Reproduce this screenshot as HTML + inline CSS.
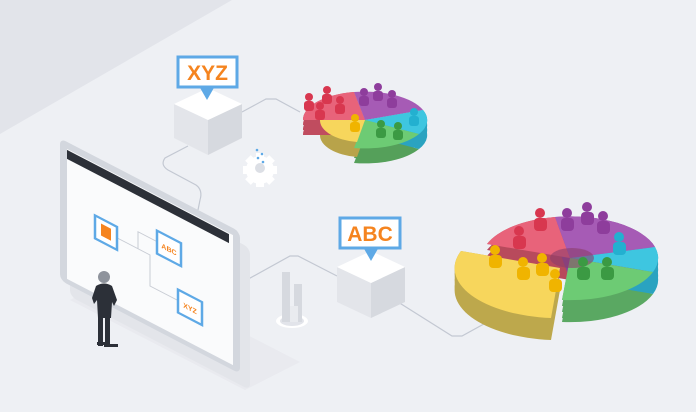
<!DOCTYPE html>
<html><head><meta charset="utf-8"><style>
html,body{margin:0;padding:0;background:#eef0f4;}
svg{display:block}
text{font-family:"Liberation Sans",sans-serif;font-weight:bold;}
</style></head><body>
<svg width="696" height="412" viewBox="0 0 696 412" xmlns="http://www.w3.org/2000/svg">
<rect width="696" height="412" fill="#eef0f4"/>
<polygon points="0,0 232,0 0,134" fill="#e2e4ea"/>
<!-- floor shadows -->
<polygon points="70,300 245,390 300,362 125,272" fill="#e7e9ee" opacity="0.8"/>
<!-- connectors -->
<g fill="none" stroke="#c3c8d2" stroke-width="1.2">
<path d="M242,112 L266,99 L276,99 L300,112"/>
<path d="M188,146 L165,158 Q160,165 168,170 L196,185 Q203,190 200,200 L198,210"/>
<path d="M243,282 L290,256 L298,256 L337,276"/>
<path d="M398,302 L452,336 L462,336 L502,314"/>
</g>
<!-- monitor -->
<g transform="matrix(1,0.52,0,1,0,0)">
<rect x="64" y="112" width="180" height="142" rx="6" fill="#e3e5ea" transform="translate(6,6)"/>
<rect x="60" y="107" width="180" height="142" rx="6" fill="#d3d7de"/>
<rect x="67" y="114" width="166" height="130" fill="#fafbfc"/>
<rect x="67" y="115" width="162" height="9" fill="#2c3038"/>
<g fill="none" stroke="#c8ccd4" stroke-width="1">
<path d="M117,177 H150 V208 H178"/><path d="M138,177 V160 H157"/>
</g>
<rect x="95" y="166" width="22" height="23" fill="#fff" stroke="#5ea9e6" stroke-width="2.5"/>
<rect x="101" y="171" width="10" height="12" fill="#f5841f"/>
<rect x="157" y="149" width="24" height="23" fill="#fff" stroke="#5ea9e6" stroke-width="2.5"/>
<text x="169" y="164" font-size="7" fill="#f5841f" text-anchor="middle">ABC</text>
<rect x="178" y="197" width="24" height="23" fill="#fff" stroke="#5ea9e6" stroke-width="2.5"/>
<text x="190" y="212" font-size="7" fill="#f5841f" text-anchor="middle">XYZ</text>
</g>
<!-- person -->
<g fill="#2c3038">
<circle cx="104" cy="277" r="6" fill="#8e939c"/>
<path d="M96,286 Q104,281 112,286 L117,300 L114,306 L112,302 L111,318 L98,318 L97,300 L94,304 L92,298 Z"/>
<rect x="98" y="316" width="5" height="30"/><rect x="105" y="316" width="5" height="31"/>
<rect x="104" y="344" width="14" height="3"/><rect x="97" y="342" width="8" height="3"/>
</g>
<!-- gear -->
<g fill="#fff"><circle cx="260" cy="170" r="14"/>
<rect x="256" y="153" width="8" height="34"/><rect x="243" y="166" width="34" height="8"/>
<rect x="256" y="153" width="8" height="34" transform="rotate(45 260 170)"/><rect x="256" y="153" width="8" height="34" transform="rotate(-45 260 170)"/>
<circle cx="260" cy="168" r="5" fill="#dcdfe5"/></g>
<g fill="#5ea9e6"><circle cx="257" cy="150" r="1.3"/><circle cx="262" cy="154" r="1.3"/><circle cx="258" cy="158" r="1.3"/><circle cx="263" cy="162" r="1.3"/></g>
<!-- tubes -->
<ellipse cx="292" cy="321" rx="16" ry="7" fill="#fff"/>
<ellipse cx="292" cy="321" rx="12" ry="5" fill="#e2e4ea"/>
<rect x="282" y="272" width="8" height="50" fill="#d6d9df"/><rect x="294" y="284" width="8" height="38" fill="#d6d9df"/><rect x="290" y="306" width="8" height="16" fill="#e9ebef"/>
<!-- XYZ cube -->
<polygon points="174,104 208,120 208,155 174,138" fill="#e3e5ea"/>
<polygon points="208,120 242,104 242,138 208,155" fill="#d6d9df"/>
<polygon points="174,104 208,88 242,104 208,120" fill="#fff"/>
<!-- ABC cube -->
<polygon points="337,267 371,283 371,318 337,302" fill="#e3e5ea"/>
<polygon points="371,283 405,267 405,302 371,318" fill="#d6d9df"/>
<polygon points="337,267 371,251 405,267 371,283" fill="#fff"/>
<!-- labels -->
<polygon points="199,86 207,100 215,86" fill="#5ea9e6"/>
<rect x="178" y="57" width="59" height="30" fill="#fff" stroke="#5ea9e6" stroke-width="3"/>
<text x="207.5" y="80" font-size="21" fill="#f5841f" text-anchor="middle">XYZ</text>
<polygon points="363,247 371,261 379,247" fill="#5ea9e6"/>
<rect x="340" y="218" width="60" height="30" fill="#fff" stroke="#5ea9e6" stroke-width="3"/>
<text x="370" y="241" font-size="21" fill="#f5841f" text-anchor="middle">ABC</text>
<!-- small pie -->
<g>
<g id="sd">
<path d="M365,120 L303,120 A62,28 0 0 1 354,92 Z" fill="#c04c5f"/>
<path d="M365,120 L419,134 A62,28 0 0 1 354,148 Z" fill="#55a05a"/>
<path d="M365,120 L423,110 A62,28 0 0 1 419,134 Z" fill="#2aa3c0"/>
<path d="M365,120 L320,120 A45,22 0 0 0 357,142 Z" fill="#b8a34a"/>
</g>
<use href="#sd" transform="translate(0,5)"/><use href="#sd" transform="translate(0,10)"/><use href="#sd" transform="translate(0,15)"/>
<path d="M365,120 L303,120 A62,28 0 0 1 354,92 Z" fill="#e8637a"/>
<path d="M365,120 L354,92 A62,28 0 0 1 423,110 Z" fill="#a65bb5"/>
<path d="M365,120 L423,110 A62,28 0 0 1 419,134 Z" fill="#3ec6e0"/>
<path d="M365,120 L419,134 A62,28 0 0 1 354,148 Z" fill="#6dcb74"/>
<path d="M365,120 L320,120 A45,22 0 0 0 357,142 Z" fill="#f7d65c"/>
<g fill="#d8374f"><circle cx="309" cy="97" r="4"/><rect x="304" y="101" width="10" height="10" rx="3"/><circle cx="327" cy="90" r="4"/><rect x="322" y="94" width="10" height="10" rx="3"/><circle cx="320" cy="106" r="4"/><rect x="315" y="110" width="10" height="10" rx="3"/><circle cx="340" cy="100" r="4"/><rect x="335" y="104" width="10" height="10" rx="3"/></g>
<g fill="#8e3d9c"><circle cx="364" cy="92" r="4"/><rect x="359" y="96" width="10" height="10" rx="3"/><circle cx="378" cy="87" r="4"/><rect x="373" y="91" width="10" height="10" rx="3"/><circle cx="392" cy="94" r="4"/><rect x="387" y="98" width="10" height="10" rx="3"/></g>
<g fill="#23b0d0"><circle cx="414" cy="112" r="4"/><rect x="409" y="116" width="10" height="10" rx="3"/></g>
<g fill="#f0b400"><circle cx="355" cy="118" r="4"/><rect x="350" y="122" width="10" height="10" rx="3"/></g>
<g fill="#3b9a43"><circle cx="381" cy="124" r="4"/><rect x="376" y="128" width="10" height="10" rx="3"/><circle cx="398" cy="126" r="4"/><rect x="393" y="130" width="10" height="10" rx="3"/></g>
</g>
<!-- big pie -->
<g>
<g id="bd">
<path d="M570,258 L487,244 A88,42 0 0 1 555,217 Z" fill="#b84a5c"/>
<path d="M570,258 L555,217 A88,42 0 0 1 655,247 Z" fill="#874597"/>
<path d="M570,258 L655,247 A88,42 0 0 1 653,272 Z" fill="#2aa3c0"/>
<path d="M570,258 L653,272 A88,42 0 0 1 562,300 Z" fill="#5aa862"/>
<path d="M560,268 L461,251 A105,50 0 0 0 551,318 Z" fill="#bda84c"/>
</g>
<use href="#bd" transform="translate(0,6)"/><use href="#bd" transform="translate(0,12)"/><use href="#bd" transform="translate(0,18)"/><use href="#bd" transform="translate(0,22)"/>
<path d="M570,258 L487,244 A88,42 0 0 1 555,217 Z" fill="#e8637a"/>
<path d="M570,258 L555,217 A88,42 0 0 1 655,247 Z" fill="#a65bb5"/>
<path d="M570,258 L655,247 A88,42 0 0 1 653,272 Z" fill="#3ec6e0"/>
<path d="M570,258 L653,272 A88,42 0 0 1 562,300 Z" fill="#6dcb74"/>
<path d="M560,268 L461,251 A105,50 0 0 0 551,318 Z" fill="#f7d65c"/>
<ellipse cx="572" cy="258" rx="22" ry="10" fill="#8a3d6a" opacity="0.6"/>
<g fill="#d8374f"><circle cx="519" cy="231" r="5"/><rect x="513" y="236" width="13" height="13" rx="4"/><circle cx="540" cy="213" r="5"/><rect x="534" y="218" width="13" height="13" rx="4"/></g>
<g fill="#8e3d9c"><circle cx="567" cy="213" r="5"/><rect x="561" y="218" width="13" height="13" rx="4"/><circle cx="587" cy="207" r="5"/><rect x="581" y="212" width="13" height="13" rx="4"/><circle cx="603" cy="216" r="5"/><rect x="597" y="221" width="13" height="13" rx="4"/></g>
<g fill="#23b0d0"><circle cx="619" cy="237" r="5"/><rect x="613" y="242" width="13" height="13" rx="4"/></g>
<g fill="#f0b400"><circle cx="495" cy="250" r="5"/><rect x="489" y="255" width="13" height="13" rx="4"/><circle cx="523" cy="262" r="5"/><rect x="517" y="267" width="13" height="13" rx="4"/><circle cx="542" cy="258" r="5"/><rect x="536" y="263" width="13" height="13" rx="4"/><circle cx="555" cy="274" r="5"/><rect x="549" y="279" width="13" height="13" rx="4"/></g>
<g fill="#3b9a43"><circle cx="583" cy="262" r="5"/><rect x="577" y="267" width="13" height="13" rx="4"/><circle cx="607" cy="262" r="5"/><rect x="601" y="267" width="13" height="13" rx="4"/></g>
</g>
</svg>
</body></html>
